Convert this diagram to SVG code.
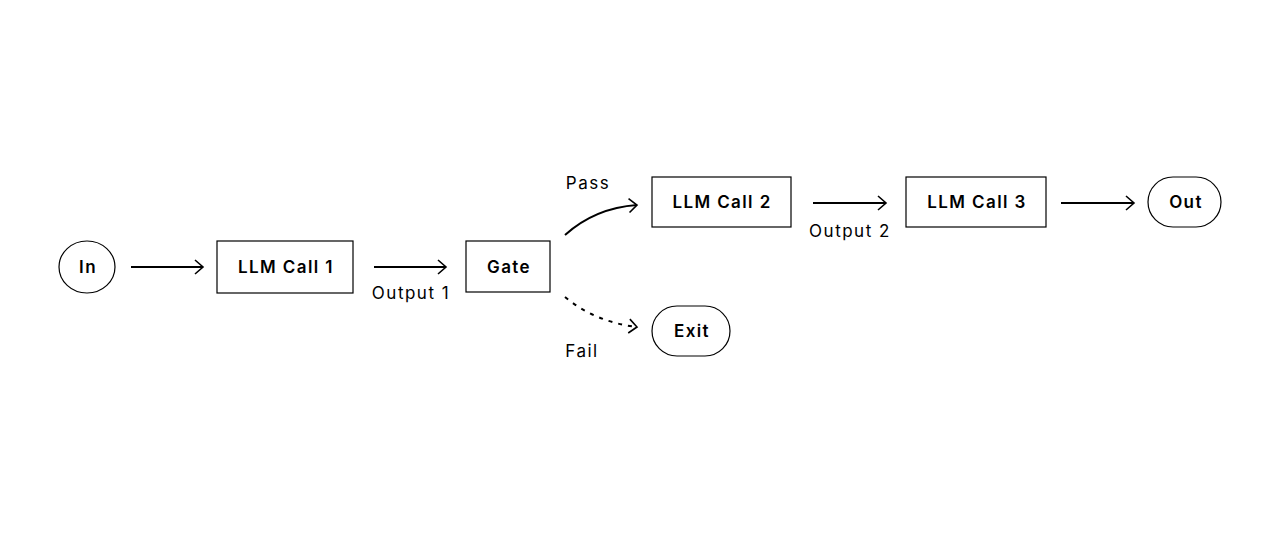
<svg xmlns="http://www.w3.org/2000/svg" width="1280" height="533" viewBox="0 0 1280 533">
<defs>
<marker id="ah" markerWidth="12" markerHeight="16" refX="10" refY="8" orient="auto" markerUnits="userSpaceOnUse">
<path d="M2,1 L10,8 L2,15" fill="none" stroke="#000" stroke-width="1.6"/>
</marker>
<style>
.n{fill:#fff;stroke:#000;stroke-width:1.2}
.t{font-family:Inter,"Liberation Sans",sans-serif;font-size:17px;font-weight:600;fill:#000;text-anchor:middle;dominant-baseline:central;letter-spacing:1.4px}
.l{font-family:Inter,"Liberation Sans",sans-serif;font-size:17px;font-weight:400;fill:#000;text-anchor:middle;letter-spacing:1.5px}
.c{fill:none;stroke:#000;stroke-width:2}
</style>
</defs>
<rect width="1280" height="533" fill="#fff"/>
<g id="connectors">
<path class="c" d="M131,267 H203" marker-end="url(#ah)"/>
<path class="c" d="M374,267 H446" marker-end="url(#ah)"/>
<path class="c" d="M565,235 Q595,208 637,205" marker-end="url(#ah)"/>
<path class="c" d="M565,297 Q595,322 637,327" stroke-dasharray="4,6" marker-end="url(#ah)"/>
<path class="c" d="M813,203 H886" marker-end="url(#ah)"/>
<path class="c" d="M1061,203 H1134" marker-end="url(#ah)"/>
<text class="l" x="411" y="299">Output 1</text>
<text class="l" x="850" y="237">Output 2</text>
<text class="l" x="588" y="189">Pass</text>
<text class="l" x="582" y="357">Fail</text>
</g>
<g id="in"><ellipse class="n" cx="87" cy="267" rx="28" ry="26"/><text class="t" x="88" y="267">In</text></g>
<g id="llm1"><rect class="n" x="217" y="241" width="136" height="52"/><text class="t" x="286" y="267">LLM Call 1</text></g>
<g id="gate"><rect class="n" x="466" y="241" width="84" height="51"/><text class="t" x="509" y="267">Gate</text></g>
<g id="llm2"><rect class="n" x="652" y="177" width="139" height="50"/><text class="t" x="722" y="202">LLM Call 2</text></g>
<g id="exit"><rect class="n" x="652" y="306" width="78" height="50" rx="25"/><text class="t" x="692" y="331">Exit</text></g>
<g id="llm3"><rect class="n" x="906" y="177" width="140" height="50"/><text class="t" x="977" y="202">LLM Call 3</text></g>
<g id="out"><rect class="n" x="1148" y="177" width="73" height="50" rx="25"/><text class="t" x="1186" y="202">Out</text></g>
</svg>
